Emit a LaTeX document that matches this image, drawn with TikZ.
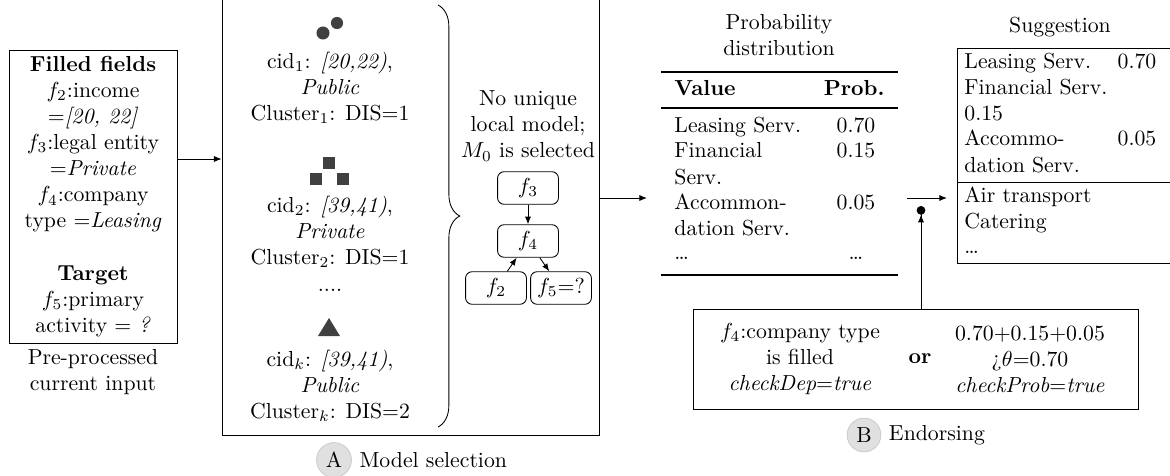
\documentclass[tikz,border=0pt]{standalone}
\usetikzlibrary{arrows.meta,decorations.pathreplacing}

\tikzset{
  fbox/.style={draw, rounded corners=3pt, minimum width=28pt, minimum height=15pt, inner sep=1pt},
  tag/.style={circle, draw=black!20, fill=black!12, inner sep=2pt},
  conn/.style={-{Latex[length=3.5pt,width=2.8pt]}},
  icon/.style={fill=black!75},
  cell/.style={inner sep=0pt},
}

\begin{document}
\begin{tikzpicture}[x=0.46pt, y=-0.46pt]
\useasboundingbox (0,0) rectangle (1170,475);
\clip (0,0) rectangle (1170,475);
% Input
\node[draw, minimum width=77.3pt, minimum height=134.8pt, align=center, inner sep=0pt] (inbox) at (93,196.5)
  {\textbf{Filled fields}\\ $f_2$:income\\ =\textit{[20, 22]}\\ $f_3$:legal entity\\ =\textit{Private}\\
   $f_4$:company\\ type =\textit{Leasing}\\[12pt] \textbf{Target}\\ $f_5$:primary\\ activity $=$ \textit{?}};
\node[align=center] (incap) at (93,372) {Pre-processed\\ current input};
% Model selection
\node[draw, minimum width=173.4pt, minimum height=204.7pt] (model) at (410.5,212.5) {};
\coordinate (a1) at (200,159);
\draw[conn] (a1 -| inbox.east) -- (a1 -| model.west);
\fill[icon] (323,33) circle (3pt);
\fill[icon] (337,23) circle (2.8pt);
\node[align=center] (c1) at (330,88) {cid$_1$: \textit{[20,22)},\\ \textit{Public}\\ Cluster$_1$: DIS=1};
\fill[icon] (323,157) rectangle (335,169);
\fill[icon] (310,173) rectangle (322,185);
\fill[icon] (337,173) rectangle (349,185);
\node[align=center] (c2) at (330,232) {cid$_2$: \textit{[39,41)},\\ \textit{Private}\\ Cluster$_2$: DIS=1};
\node (cdots) at (330,290) {....};
\fill[icon] (318,336) -- (329,318) -- (340,336) -- cycle;
\node[align=center] (ck) at (330,386) {cid$_k$: \textit{[39,41)},\\ \textit{Public}\\ Cluster$_k$: DIS=2};
\draw[decorate, decoration={brace, amplitude=10pt}] (438,5) -- (438,427);
\node[align=center] (m0) at (528,126) {No unique\\ local model;\\ $M_0$ is selected};
\node[fbox] (f3) at (528,188) {$f_3$};
\node[fbox] (f4) at (528,241) {$f_4$};
\node[fbox] (f2) at (496,288) {$f_2$};
\node[fbox] (f5) at (561,288) {$f_5$=?};
\draw[conn] (f3) -- (f4);
\draw[conn] (f2) -- (f4);
\draw[conn] (f4) -- (f5);
\node[tag] (tagA) at (334,460) {A};
\node[anchor=west] (capA) at (tagA.east) {Model selection};
% Probability distribution
\coordinate (pin) at (647,198);
\draw[conn] (model.east |- pin) -- (pin);
\node[align=center] (ptitle) at (779,35) {Probability\\ distribution};
\draw[line width=0.8pt] (661,72) -- (898,72);
\draw[line width=0.5pt] (661,108) -- (898,108);
\draw[line width=0.8pt] (661,275) -- (898,275);
\node[cell, anchor=base west, font=\bfseries] (hval) at (674,95) {Value};
\node[cell, anchor=base east, font=\bfseries] (hprob) at (885,95) {Prob.};
\foreach \y/\v [count=\i] in {132/Leasing Serv., 157/Financial, 184/Serv., 209/Accommon-, 235/dation Serv., 259/\ldots}
  \node[cell, anchor=base west] (pv\i) at (674,\y) {\v};
\foreach \y/\p [count=\i] in {132/0.70, 157/0.15, 209/0.05, 259/\ldots}
  \node[cell, anchor=base] (pp\i) at (856,\y) {\p};
% Suggestion
\coordinate (s1) at (907,198);
\coordinate (s2) at (947,198);
\draw[conn] (s1) -- (s2);
\node (stitle) at (1060,27) {Suggestion};
\node[draw, minimum width=107.2pt, minimum height=98.9pt] (sugg) at (1073.5,155.5) {};
\coordinate (smid) at (957,182);
\draw (smid) -- (smid -| sugg.east);
\foreach \y/\v [count=\i] in {68/Leasing Serv., 94/Financial Serv., 120/0.15, 145/Accommo-, 172/dation Serv., 202/Air transport, 228/Catering, 253/\ldots}
  \node[cell, anchor=base west] (sv\i) at (964,\y) {\v};
\node[cell, anchor=base] (sp1) at (1137,68) {0.70};
\node[cell, anchor=base] (sp2) at (1137,145) {0.05};
% Endorsing
\node[draw, minimum width=204.7pt, minimum height=46pt] (endorse) at (915.5,359) {};
\node[align=center] (dep) at (800,359) {$f_4$:company type\\ is filled\\ \textit{checkDep}=\textit{true}};
\node[font=\bfseries] (or) at (920,359) {or};
\node[align=center] (prob) at (1030,359) {0.70+0.15+0.05\\ ¿$\theta$=0.70\\ \textit{checkProb}=\textit{true}};
\coordinate (dot) at (921,206);
\draw[-{Latex[length=3.5pt,width=2.8pt]Circle[length=4pt]}] (endorse.north -| dot) -- (dot);
\node[tag] (tagB) at (864,435) {B};
\node[anchor=west] (capB) at (tagB.east) {Endorsing};
\end{tikzpicture}
\end{document}
